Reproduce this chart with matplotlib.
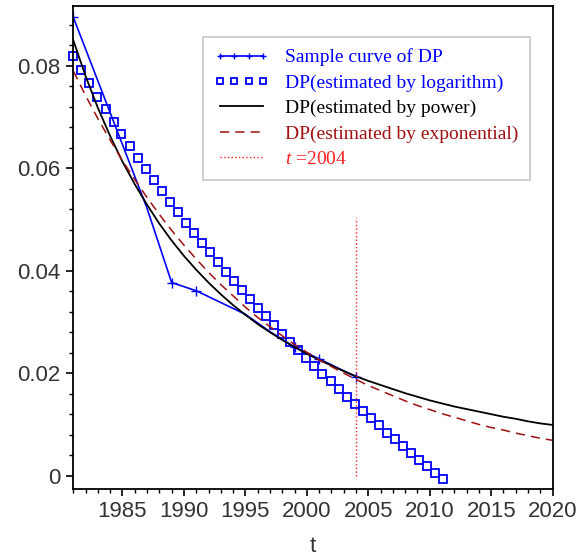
import matplotlib
matplotlib.use("Agg")
import matplotlib.pyplot as plt
from matplotlib.lines import Line2D
from matplotlib.ticker import MultipleLocator, FuncFormatter

plt.rcParams['font.family'] = ['Liberation Sans', 'DejaVu Sans']
plt.rcParams['mathtext.fontset'] = 'custom'
plt.rcParams['mathtext.rm'] = 'Liberation Serif'
plt.rcParams['mathtext.it'] = 'Liberation Serif:italic'

# sample curve of DP
sample_t = [1981, 1987, 1989, 1991, 1993, 1995, 1997, 1999, 2001, 2004]
sample_dp = [0.0895, 0.0522, 0.0377, 0.0361, 0.0338, 0.0315, 0.0281, 0.0251, 0.0228, 0.0193]
sample_marked = [0, 2, 3, 7, 8, 9]

# DP estimated by logarithm (square markers)
log_t = [1981.00, 1981.65, 1982.31, 1982.96, 1983.62, 1984.27, 1984.92, 1985.58,
         1986.23, 1986.89, 1987.54, 1988.19, 1988.85, 1989.50, 1990.16, 1990.81,
         1991.46, 1992.12, 1992.77, 1993.43, 1994.08, 1994.73, 1995.39, 1996.04,
         1996.70, 1997.35, 1998.00, 1998.66, 1999.31, 1999.97, 2000.62, 2001.27,
         2001.93, 2002.58, 2003.24, 2003.89, 2004.54, 2005.20, 2005.85, 2006.51,
         2007.16, 2007.81, 2008.47, 2009.12, 2009.78, 2010.43, 2011.08]
log_dp = [0.0819, 0.0792, 0.0766, 0.0740, 0.0716, 0.0691, 0.0667, 0.0644,
          0.0621, 0.0599, 0.0577, 0.0556, 0.0535, 0.0514, 0.0494, 0.0474,
          0.0455, 0.0436, 0.0417, 0.0398, 0.0380, 0.0362, 0.0345, 0.0328,
          0.0311, 0.0294, 0.0277, 0.0261, 0.0245, 0.0230, 0.0214, 0.0199,
          0.0184, 0.0169, 0.0154, 0.0140, 0.0126, 0.0112, 0.0098, 0.0084,
          0.0071, 0.0057, 0.0044, 0.0031, 0.0018, 0.0006, -0.0007]

years = list(range(1981, 2021))

# DP estimated by power
pow_dp = [0.0850, 0.0780, 0.0718, 0.0663, 0.0613, 0.0569, 0.0529, 0.0492,
          0.0459, 0.0429, 0.0402, 0.0377, 0.0354, 0.0333, 0.0314, 0.0296,
          0.0280, 0.0265, 0.0251, 0.0238, 0.0226, 0.0215, 0.0204, 0.0194,
          0.0185, 0.0177, 0.0169, 0.0161, 0.0154, 0.0147, 0.0141, 0.0135,
          0.0130, 0.0125, 0.0120, 0.0115, 0.0111, 0.0106, 0.0102, 0.0099]

# DP estimated by exponential
exp_dp = [0.0790, 0.0742, 0.0697, 0.0655, 0.0615, 0.0578, 0.0543, 0.0510,
          0.0479, 0.0450, 0.0423, 0.0397, 0.0373, 0.0351, 0.0329, 0.0309,
          0.0291, 0.0273, 0.0256, 0.0241, 0.0226, 0.0213, 0.0200, 0.0188,
          0.0176, 0.0166, 0.0156, 0.0146, 0.0137, 0.0129, 0.0121, 0.0114,
          0.0107, 0.0100, 0.0094, 0.0089, 0.0083, 0.0078, 0.0073, 0.0069]

mark_t = [2004, 2004]
mark_dp = [0.0, 0.0503]

blue = '#0000ff'
dred = '#a01010'
red = '#ff2020'

fig = plt.figure(figsize=(5.86, 5.58), dpi=100)
ax = fig.add_axes([0.1251, 0.1237, 0.818, 0.8656])

ax.plot(sample_t, sample_dp, color=blue, lw=1.2, marker='+', ms=7, mew=1.0,
        markevery=sample_marked)
ax.plot(log_t, log_dp, ls='none', marker='s', ms=5.5, mfc='none', mec=blue,
        mew=1.3, clip_on=False)
ax.plot(years, pow_dp, color='black', lw=1.3)
ax.plot(years, exp_dp, color=dred, lw=1.1, dashes=(6, 4))
ax.plot(mark_t, mark_dp, color=red, lw=1.0, ls=':')

ax.set_xlim(1981, 2020)
ax.set_ylim(-0.0026, 0.0917)
ax.xaxis.set_minor_locator(MultipleLocator(1))
ax.yaxis.set_major_locator(MultipleLocator(0.02))
ax.yaxis.set_minor_locator(MultipleLocator(0.004))
ax.yaxis.set_major_formatter(FuncFormatter(lambda v, p: '0' if abs(v) < 1e-9 else '%g' % v))
ax.set_xticks([1985, 1990, 1995, 2000, 2005, 2010, 2015, 2020])

ax.tick_params(which='major', direction='out', length=5, width=1.2,
               labelsize=16, labelcolor='#333333', pad=4)
ax.tick_params(which='minor', direction='out', length=3, width=1.0)
for s in ax.spines.values():
    s.set_linewidth(1.3)

ax.set_xlabel('t', fontsize=16, color='#333333', labelpad=10)

handles = [
    Line2D([], [], color=blue, lw=1.2, marker='+', ms=7, mew=1.0),
    Line2D([], [], ls='none', marker='s', ms=5.5, mfc='none', mec=blue, mew=1.3),
    Line2D([], [], color='black', lw=1.3),
    Line2D([], [], color=dred, lw=1.1, dashes=(6, 4)),
    Line2D([], [], color=red, lw=1.0, ls=':'),
]
labels = ['Sample curve of DP', 'DP(estimated by logarithm)',
          'DP(estimated by power)', 'DP(estimated by exponential)', '$t$ =2004']
leg = ax.legend(handles, labels, loc='upper left', bbox_to_anchor=(0.27, 0.936),
                borderaxespad=0, prop={'family': 'Liberation Serif', 'size': 14},
                numpoints=4, markerscale=0.7, handlelength=2.8, handletextpad=0.85,
                labelspacing=0.4, borderpad=0.6, fancybox=False, framealpha=1,
                edgecolor='#c8c8c8',
                labelcolor=[blue, blue, 'black', dred, red])
leg.get_frame().set_linewidth(1.2)

fig.savefig('out.png', dpi=100)
